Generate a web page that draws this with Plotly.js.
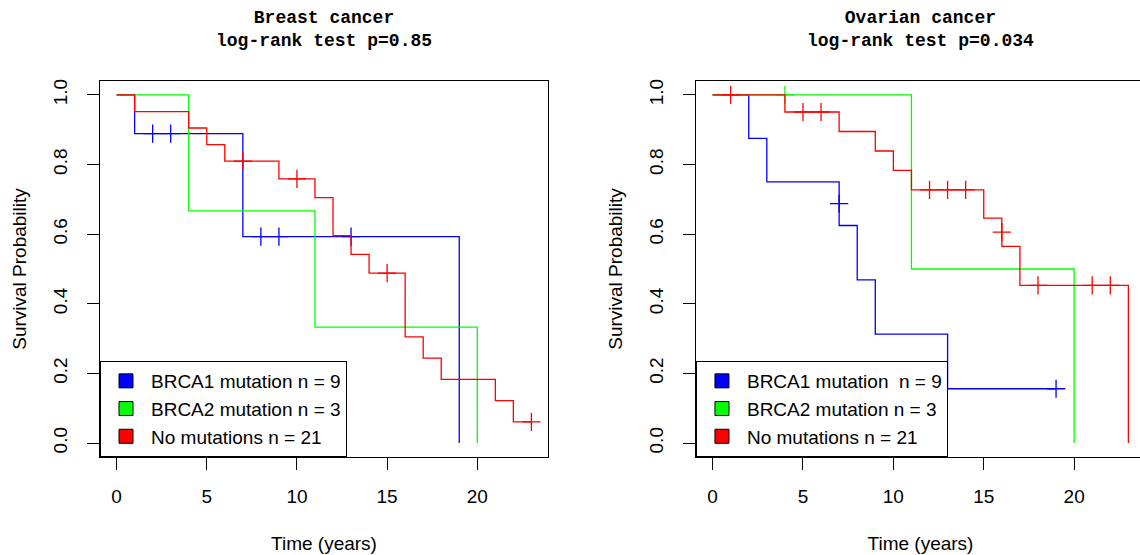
<!DOCTYPE html>
<html><head><meta charset="utf-8">
<script src="https://cdn.plot.ly/plotly-3.0.1.min.js"></script>
<style>html,body{margin:0;padding:0;overflow:hidden;background:#fff}#chart{width:1160px;height:555px}</style>
</head><body><div id="chart"></div>
<script>
// ---- Breast cancer: Kaplan-Meier steps (time in years, survival) ----
const brBRCA1Time = [0, 1, 7, 19];
const brBRCA1Surv = [1, 0.889, 0.593, 0];
const brBRCA1CensTime = [2, 3, 8, 9, 13];
const brBRCA1CensSurv = [0.889, 0.889, 0.593, 0.593, 0.593];

const brBRCA2Time = [0, 4, 11, 20];
const brBRCA2Surv = [1, 0.667, 0.333, 0];

const brNoneTime = [0, 1, 4, 5, 6, 9, 11, 12, 13, 14, 16, 17, 18, 21, 22, 23];
const brNoneSurv = [1, 0.952, 0.905, 0.857, 0.810, 0.759, 0.705, 0.596, 0.542, 0.488, 0.305, 0.244, 0.183, 0.122, 0.061, 0.061];
const brNoneCensTime = [7, 10, 15, 23];
const brNoneCensSurv = [0.810, 0.759, 0.488, 0.061];

// ---- Ovarian cancer ----
const ovBRCA1Time = [0, 2, 3, 7, 8, 9, 13, 19];
const ovBRCA1Surv = [1, 0.875, 0.75, 0.625, 0.469, 0.313, 0.156, 0.156];
const ovBRCA1CensTime = [7, 19];
const ovBRCA1CensSurv = [0.688, 0.156];

const ovBRCA2Time = [0, 11, 20];
const ovBRCA2Surv = [1, 0.5, 0];
const ovBRCA2CensTime = [4];
const ovBRCA2CensSurv = [1];

const ovNoneTime = [0, 4, 7, 9, 10, 11, 15, 16, 17, 23];
const ovNoneSurv = [1, 0.951, 0.895, 0.839, 0.783, 0.727, 0.646, 0.565, 0.453, 0];
const ovNoneCensTime = [1, 5, 6, 12, 13, 14, 16, 18, 21, 22];
const ovNoneCensSurv = [1, 0.951, 0.951, 0.727, 0.727, 0.727, 0.606, 0.453, 0.453, 0.453];

// ---- labels ----
const legendLeft = ['BRCA1 mutation n = 9', 'BRCA2 mutation n = 3', 'No mutations n = 21'];
const legendRight = ['BRCA1 mutation\u00a0 n = 9', 'BRCA2 mutation n = 3', 'No mutations n = 21'];
const titleLeft = 'Breast cancer<br>log-rank test p=0.85';
const titleRight = 'Ovarian cancer<br>log-rank test p=0.034';
const xTicks = [0, 5, 10, 15, 20];
const yTicks = [0, 0.2, 0.4, 0.6, 0.8, 1.0];
const yTickText = ['0.0', '0.2', '0.4', '0.6', '0.8', '1.0'];

const BLUE = '#0000FF', GREEN = '#00FF00', RED = '#FF0000';
const FONT = 'Liberation Sans, Arial, sans-serif';

function stepTrace(x, y, color, xa, ya) {
  return {x: x, y: y, type: 'scatter', mode: 'lines', line: {shape: 'hv', color: color, width: 1.3},
    xaxis: xa, yaxis: ya, showlegend: false, hoverinfo: 'skip'};
}
function censTrace(x, y, color, xa, ya) {
  return {x: x, y: y, type: 'scatter', mode: 'markers',
    marker: {symbol: 'cross-thin', size: 13, color: color, line: {color: color, width: 1.3}},
    xaxis: xa, yaxis: ya, showlegend: false, hoverinfo: 'skip'};
}
function legTrace(name, color, xa, ya, leg) {
  return {x: [null], y: [null], type: 'scatter', mode: 'markers', name: name,
    marker: {symbol: 'square', size: 14, color: color, line: {color: '#000', width: 1}},
    xaxis: xa, yaxis: ya, showlegend: true, legend: leg};
}

const data = [
  stepTrace(brBRCA1Time, brBRCA1Surv, BLUE, 'x', 'y'),
  censTrace(brBRCA1CensTime, brBRCA1CensSurv, BLUE, 'x', 'y'),
  stepTrace(brBRCA2Time, brBRCA2Surv, GREEN, 'x', 'y'),
  stepTrace(brNoneTime, brNoneSurv, RED, 'x', 'y'),
  censTrace(brNoneCensTime, brNoneCensSurv, RED, 'x', 'y'),
  stepTrace(ovBRCA1Time, ovBRCA1Surv, BLUE, 'x2', 'y2'),
  censTrace(ovBRCA1CensTime, ovBRCA1CensSurv, BLUE, 'x2', 'y2'),
  stepTrace(ovBRCA2Time, ovBRCA2Surv, GREEN, 'x2', 'y2'),
  censTrace(ovBRCA2CensTime, ovBRCA2CensSurv, GREEN, 'x2', 'y2'),
  stepTrace(ovNoneTime, ovNoneSurv, RED, 'x2', 'y2'),
  censTrace(ovNoneCensTime, ovNoneCensSurv, RED, 'x2', 'y2'),
  legTrace(legendLeft[0], BLUE, 'x', 'y', 'legend'),
  legTrace(legendLeft[1], GREEN, 'x', 'y', 'legend'),
  legTrace(legendLeft[2], RED, 'x', 'y', 'legend'),
  legTrace(legendRight[0], BLUE, 'x2', 'y2', 'legend2'),
  legTrace(legendRight[1], GREEN, 'x2', 'y2', 'legend2'),
  legTrace(legendRight[2], RED, 'x2', 'y2', 'legend2')
];

function xAx(domain, anchor) {
  return {domain: domain, anchor: anchor, range: [-0.92, 23.92], showline: true, mirror: true,
    linecolor: '#000', linewidth: 1, ticks: 'outside', ticklen: 12, tickwidth: 1, tickcolor: '#000',
    tickvals: xTicks, ticktext: xTicks.map(String), showgrid: false, zeroline: false,
    tickfont: {family: FONT, size: 19, color: '#000'}, ticklabelstandoff: 10,
    title: {text: 'Time (years)', font: {family: FONT, size: 19, color: '#000'}, standoff: 30}};
}
function yAx(anchor) {
  return {domain: [0, 1], anchor: anchor, range: [-0.04, 1.04], showline: true, mirror: true,
    linecolor: '#000', linewidth: 1, ticks: 'outside', ticklen: 12, tickwidth: 1, tickcolor: '#000',
    tickvals: yTicks, ticktext: yTickText, tickangle: -90, showgrid: false, zeroline: false,
    tickfont: {family: FONT, size: 19, color: '#000'}, ticklabelstandoff: 12,
    title: {text: 'Survival Probability', font: {family: FONT, size: 19, color: '#000'}, standoff: 18}};
}
function legendCfg(x) {
  return {x: x, y: 0, xref: 'paper', yref: 'paper', xanchor: 'left', yanchor: 'bottom',
    bgcolor: 'rgba(0,0,0,0)', bordercolor: '#000', borderwidth: 1, itemwidth: 40,
    font: {family: FONT, size: 19, color: '#000'}, traceorder: 'normal', itemclick: false, itemdoubleclick: false};
}
const TITLE_FONT = {family: 'Liberation Mono, monospace', size: 18, color: '#000', weight: 'bold'};

const layout = {
  width: 1160, height: 555,
  margin: {l: 100, r: 15, t: 81, b: 98},
  paper_bgcolor: '#fff', plot_bgcolor: '#fff',
  xaxis: xAx([0, 0.4287], 'y'),
  yaxis: yAx('x'),
  xaxis2: xAx([0.5703, 1], 'y2'),
  yaxis2: yAx('x2'),
  legend: legendCfg(0),
  legend2: legendCfg(0.5703),
  annotations: [
    {text: titleLeft, xref: 'x domain', yref: 'paper', x: 0.5, y: 1.137, xanchor: 'center', yanchor: 'middle',
     showarrow: false, font: TITLE_FONT},
    {text: titleRight, xref: 'x2 domain', yref: 'paper', x: 0.5, y: 1.137, xanchor: 'center', yanchor: 'middle',
     showarrow: false, font: TITLE_FONT}
  ],
  showlegend: true
};
Plotly.newPlot('chart', data, layout, {displayModeBar: false, staticPlot: true});
</script></body></html>
